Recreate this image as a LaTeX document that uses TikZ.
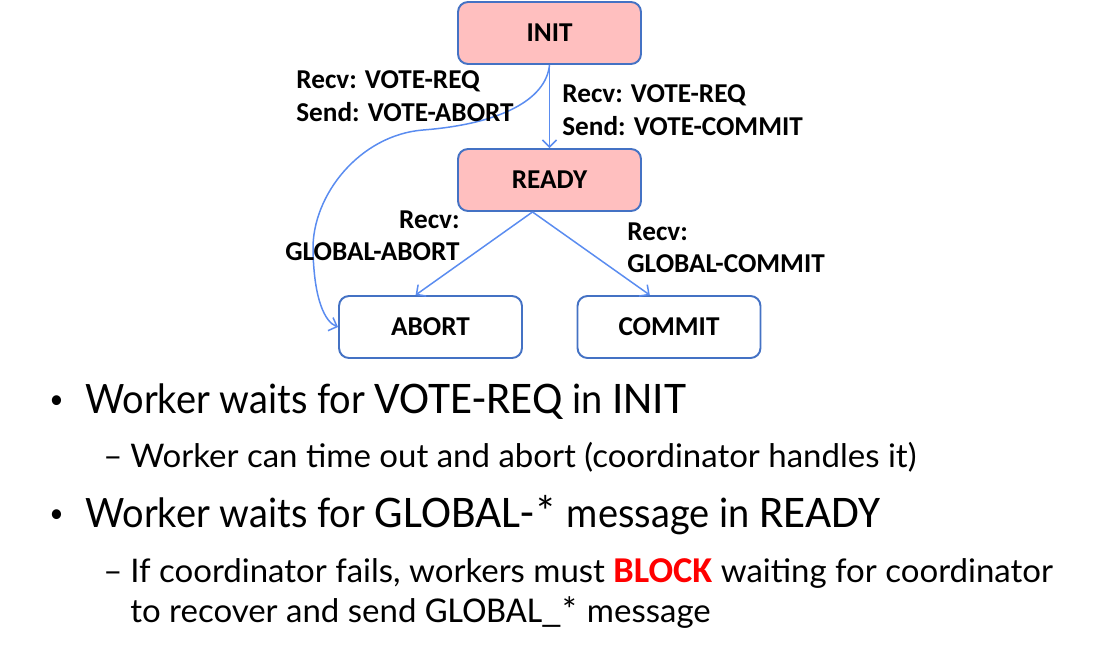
\documentclass[tikz,border=0pt]{standalone}
\usepackage{fontspec}
\usetikzlibrary{arrows.meta}
\newfontfamily\calibri{Carlito}
\newfontfamily\keyword{Carlito}[Scale=1.12]
\newfontfamily\gill{Lato}[FakeStretch=0.94]
\newfontfamily\gillsub{Lato}[FakeStretch=1.015]
\definecolor{boxblue}{RGB}{68,114,196}
\definecolor{statepink}{RGB}{255,191,191}
\definecolor{arrowblue}{RGB}{90,140,240}
\definecolor{blockred}{RGB}{255,0,0}
\begin{document}
\begin{tikzpicture}[
    x=0.02cm,y=-0.02cm,
    state/.style={draw=boxblue,line width=1.1pt,rounded corners=0.2cm,
      minimum width=3.66cm,minimum height=1.24cm,inner sep=0pt,
      font=\calibri\bfseries\fontsize{15.5}{18}\selectfont},
    active/.style={state,fill=statepink},
    flow/.style={draw=arrowblue,line width=0.85pt,-{Straight Barb[length=4pt,width=8pt]}},
    msg/.style={inner sep=0pt,font=\calibri\bfseries\fontsize{15.5}{18.7}\selectfont},
    point/.style={anchor=base west,inner sep=0pt,font=\gill\fontsize{23}{27}\selectfont},
    subpoint/.style={anchor=base west,inner sep=0pt,font=\gillsub\fontsize{18.5}{22}\selectfont}
  ]
  \useasboundingbox (0,0) rectangle (1099,649);

  % states
  \node[active] (init) at (549.5,33) {INIT};
  \node[active] (ready) at (549.5,180) {READY};
  \node[state] (abort) at (430.5,327) {ABORT};
  \node[state] (commit) at (669,327) {COMMIT};

  % transitions
  \draw[flow] (init.south) -- (ready.north);
  \draw[flow] (init.south) .. controls (546,100) and (500,124) .. (423,130)
    .. controls (360,135) and (312,195) .. (313,250)
    .. controls (314,300) and (325,322) .. (abort.west);
  \draw[flow] (ready.242) -- (abort.115);
  \draw[flow] (ready.242) -- (commit.121);

  % transition labels
  \node[msg,anchor=north west,align=left] (voteabort) at (296,70) {Recv: VOTE-REQ\\Send: VOTE-ABORT};
  \node[msg,anchor=north west,align=left] (votecommit) at (562,84) {Recv: VOTE-REQ\\Send: VOTE-COMMIT};
  \node[msg,anchor=north east,align=right] (globabort) at (460,210) {Recv:\\GLOBAL-ABORT};
  \node[msg,anchor=north west,align=left] (globcommit) at (627,222) {Recv:\\GLOBAL-COMMIT};

  % bullets
  \node[point,font=\gill\fontsize{15}{15}\selectfont] (bul1) at (49,408) {•};
  \node[point] (txt1) at (85,413) {Worker waits for {\keyword VOTE-REQ} in {\keyword INIT}};
  \node[subpoint] (dash2) at (103,467) {–};
  \node[subpoint] (txt2) at (130,467) {Worker can time out and abort (coordinator handles it)};
  \node[point,font=\gill\fontsize{15}{15}\selectfont] (bul3) at (49,522) {•};
  \node[point] (txt3) at (85,527) {Worker waits for {\keyword GLOBAL-*} message in {\keyword READY}};
  \node[subpoint] (dash4) at (103,582) {–};
  \node[subpoint] (txt4) at (130,582) {If coordinator fails, workers must {\keyword\bfseries\color{blockred}BLOCK} waiting for coordinator};
  \node[subpoint] (txt5) at (130,622) {to recover and send {\keyword GLOBAL\_*} message};
\end{tikzpicture}
\end{document}
